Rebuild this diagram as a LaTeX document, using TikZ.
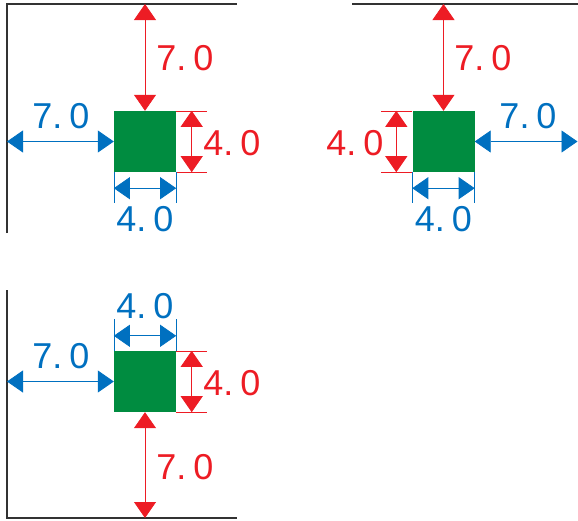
\documentclass[tikz,border=0pt]{standalone}
\usepackage{fontspec}
\setmainfont{Liberation Sans}
\usetikzlibrary{arrows.meta}
\definecolor{dimred}{RGB}{237,28,36}
\definecolor{dimblue}{RGB}{0,112,192}
\definecolor{sqgreen}{RGB}{0,140,64}
\definecolor{wallgray}{RGB}{50,50,50}
\tikzset{
  sq/.style={fill=sqgreen, draw=none, minimum width=62pt, minimum height=61pt, inner sep=0pt},
  wall/.style={draw=wallgray, line width=1.1pt},
  dimtip/.style={{Triangle[length=16pt,width=22pt]}-{Triangle[length=16pt,width=22pt]}},
  reddim/.style={draw=dimred, line width=0.8pt, dimtip, fill=dimred},
  bluedim/.style={draw=dimblue, line width=0.8pt, dimtip, fill=dimblue},
  redext/.style={draw=dimred, line width=0.6pt},
  blueext/.style={draw=dimblue, line width=0.6pt},
  lbl/.style={font=\fontsize{36}{36}\selectfont, inner sep=0pt},
  redlbl/.style={lbl, text=dimred},
  bluelbl/.style={lbl, text=dimblue}
}
\newcommand{\dimtxt}[2]{#1.\kern7pt#2}
\begin{document}
\begin{tikzpicture}[x=1pt,y=-1pt]
\useasboundingbox (0,0) rectangle (578,520);

% ---------- Panel 1 (top left) ----------
\node[sq] (s1) at (145,141.5) {};
\coordinate (w1a) at (7,233);
\coordinate (w1b) at (7,4);
\coordinate (w1c) at (237,4);
\draw[wall] (w1a) -- (w1b) -- (w1c);
\coordinate (t1) at (145,4);
\draw[reddim] (t1) -- (s1.north);
\node[redlbl] (lab1a) at (185,58) {\dimtxt{7}{0}};
\draw[redext] (s1.north east) -- ++(31,0);
\draw[redext] (s1.south east) -- ++(31,0);
\draw[reddim] ([xshift=15.5pt]s1.north east) -- ([xshift=15.5pt]s1.south east);
\node[redlbl] (lab1b) at (232,143) {\dimtxt{4}{0}};
\coordinate (l1) at (7,141.5);
\draw[bluedim] (l1) -- (s1.west);
\node[bluelbl] (lab1c) at (61,116) {\dimtxt{7}{0}};
\draw[blueext] (s1.south west) -- ++(0,31);
\draw[blueext] (s1.south east) -- ++(0,31);
\draw[bluedim] ([yshift=-16pt]s1.south west) -- ([yshift=-16pt]s1.south east);
\node[bluelbl] (lab1d) at (145,219) {\dimtxt{4}{0}};

% ---------- Panel 2 (top right) ----------
\node[sq] (s2) at (443.5,141.5) {};
\coordinate (w2a) at (352,4);
\coordinate (w2b) at (578,4);
\draw[wall] (w2a) -- (w2b);
\coordinate (t2) at (443.5,4);
\draw[reddim] (t2) -- (s2.north);
\node[redlbl] (lab2a) at (483,58) {\dimtxt{7}{0}};
\draw[redext] (s2.north west) -- ++(-31,0);
\draw[redext] (s2.south west) -- ++(-31,0);
\draw[reddim] ([xshift=-16pt]s2.north west) -- ([xshift=-16pt]s2.south west);
\node[redlbl] (lab2b) at (355,143) {\dimtxt{4}{0}};
\coordinate (r2) at (577.5,141.5);
\draw[bluedim] (s2.east) -- (r2);
\node[bluelbl] (lab2c) at (528,116) {\dimtxt{7}{0}};
\draw[blueext] (s2.south west) -- ++(0,31);
\draw[blueext] (s2.south east) -- ++(0,31);
\draw[bluedim] ([yshift=-16pt]s2.south west) -- ([yshift=-16pt]s2.south east);
\node[bluelbl] (lab2d) at (443.5,219) {\dimtxt{4}{0}};

% ---------- Panel 3 (bottom left) ----------
\node[sq] (s3) at (145,381.5) {};
\coordinate (w3a) at (7,290);
\coordinate (w3b) at (7,518);
\coordinate (w3c) at (237,518);
\draw[wall] (w3a) -- (w3b) -- (w3c);
\draw[blueext] (s3.north west) -- ++(0,-32);
\draw[blueext] (s3.north east) -- ++(0,-32);
\draw[bluedim] ([yshift=15pt]s3.north west) -- ([yshift=15pt]s3.north east);
\node[bluelbl] (lab3a) at (145,306) {\dimtxt{4}{0}};
\coordinate (l3) at (7,381.5);
\draw[bluedim] (l3) -- (s3.west);
\node[bluelbl] (lab3b) at (61,356) {\dimtxt{7}{0}};
\draw[redext] (s3.north east) -- ++(31,0);
\draw[redext] (s3.south east) -- ++(31,0);
\draw[reddim] ([xshift=15.5pt]s3.north east) -- ([xshift=15.5pt]s3.south east);
\node[redlbl] (lab3c) at (232,383) {\dimtxt{4}{0}};
\coordinate (b3) at (145,518);
\draw[reddim] (s3.south) -- (b3);
\node[redlbl] (lab3d) at (185,467) {\dimtxt{7}{0}};
\end{tikzpicture}
\end{document}
